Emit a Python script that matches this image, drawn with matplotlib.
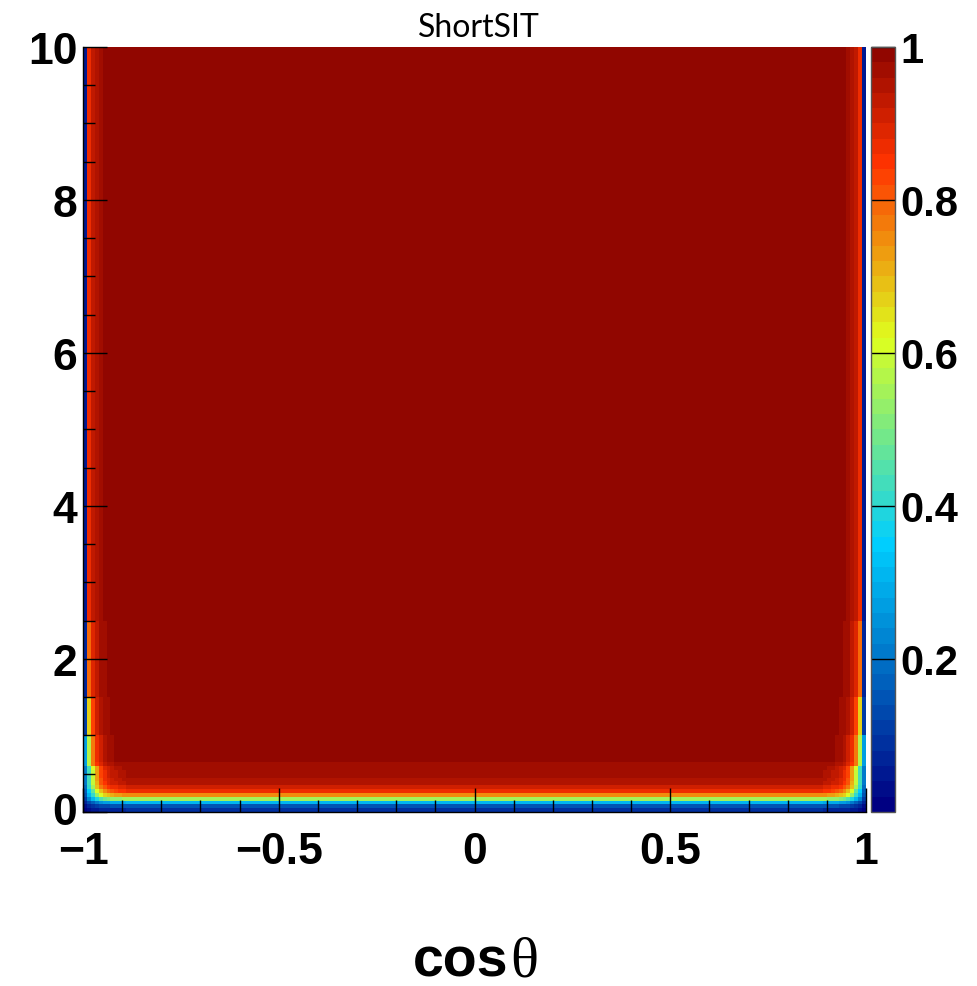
import numpy as np
import matplotlib
matplotlib.use("Agg")
import matplotlib.pyplot as plt
import matplotlib.transforms as mtransforms
from matplotlib.colors import LinearSegmentedColormap, ListedColormap

# binning of the 2D efficiency histogram
n_xbins = 200          # cos(theta) from -1 to 1
n_ybins = 200          # y from 0 to 10
x_range = (-1.0, 1.0)
y_range = (0.0, 10.0)

# efficiency vs y in the central region, first bins (0.05 wide), plateau above
eff_turnon = [0.08, 0.15, 0.30, 0.55, 0.75, 0.86, 0.90, 0.94, 0.95, 0.96,
              0.965, 0.97, 0.975]
eff_plateau = 0.99

# efficiency factor vs distance (in bins) from |cos(theta)| = 1, per y band
edge_band_lo = [0.0, 0.3, 0.6, 1.0, 1.5, 2.5]     # lower y edge of each band
edge_factor = [
    [0.20, 0.40, 0.55, 0.70, 0.80, 0.88, 0.92, 0.95, 0.97, 0.98, 0.99],
    [0.22, 0.45, 0.62, 0.76, 0.86, 0.91, 0.94, 0.96, 0.97, 0.98, 0.99],
    [0.28, 0.58, 0.78, 0.87, 0.92, 0.95, 0.97, 0.98, 0.99],
    [0.12, 0.68, 0.84, 0.91, 0.95, 0.97, 0.98],
    [0.08, 0.80, 0.90, 0.94, 0.97, 0.98],
    [0.05, 0.87, 0.93, 0.96, 0.98],
]

xticks = [-1, -0.5, 0, 0.5, 1]
xticklabels = ["\u22121", "\u22120.5", "0", "0.5", "1"]
yticks = [0, 2, 4, 6, 8, 10]
cbar_ticks = [0.2, 0.4, 0.6, 0.8, 1.0]
cbar_labels = ["0.2", "0.4", "0.6", "0.8", "1"]

# ---- fill the histogram from the tables ----
x_edges = np.linspace(x_range[0], x_range[1], n_xbins + 1)
y_edges = np.linspace(y_range[0], y_range[1], n_ybins + 1)
eff = np.zeros((n_ybins, n_xbins))
for j in range(n_ybins):
    ylo = y_edges[j]
    central = eff_turnon[j] if j < len(eff_turnon) else eff_plateau
    band = max(k for k, b in enumerate(edge_band_lo) if ylo >= b - 1e-9)
    prof = edge_factor[band]
    for i in range(n_xbins):
        d = min(i, n_xbins - 1 - i)
        f = prof[d] if d < len(prof) else 1.0
        eff[j, i] = central * f

# ROOT-like rainbow palette: 255-colour gradient, 50 contour levels
stops = [0.00, 0.34, 0.61, 0.84, 1.00]
reds = [0.00, 0.00, 0.87, 1.00, 0.51]
greens = [0.00, 0.81, 1.00, 0.20, 0.00]
blues = [0.51, 1.00, 0.12, 0.00, 0.00]
grad = LinearSegmentedColormap.from_list(
    "rootgrad", list(zip(stops, zip(reds, greens, blues))), N=255)
n_levels = 50
cmap = ListedColormap([grad(int(k * 255 / n_levels)) for k in range(n_levels)])

fig = plt.figure(figsize=(9.78, 9.87), dpi=100)
ax = fig.add_axes([0.0849, 0.1763, 0.8006, 0.7751])
mesh = ax.pcolormesh(x_edges, y_edges, eff, cmap=cmap, vmin=0, vmax=1,
                     shading="flat")
ax.set_xlim(x_range)
ax.set_ylim(y_range)

for side in ["top", "right"]:
    ax.spines[side].set_visible(False)
for side in ["left", "bottom"]:
    ax.spines[side].set_linewidth(1.0)

bold = dict(family="Liberation Sans", weight="bold")
ax.set_xticks(xticks)
ax.set_xticklabels(xticklabels, fontsize=32, **bold)
ax.set_yticks(yticks)
ax.set_yticklabels([str(v) for v in yticks], fontsize=32, **bold)
ax.set_xticks(np.arange(-1, 1.001, 0.1), minor=True)
ax.set_yticks(np.arange(0, 10.001, 0.5), minor=True)
ax.tick_params(which="major", direction="in", length=17, width=1,
               top=False, right=False)
ax.tick_params(which="minor", direction="in", length=8.5, width=1,
               top=False, right=False)
ax.tick_params(axis="x", which="major", pad=14)
ax.tick_params(axis="y", which="major", pad=4)

# nudge the "0" y label up a touch so it does not run into "-1"
zero_lab = ax.get_yticklabels()[0]
zero_lab.set_transform(zero_lab.get_transform() +
                       mtransforms.ScaledTranslation(0, 3 / 72, fig.dpi_scale_trans))

# colour bar
cax = fig.add_axes([0.8906, 0.1763, 0.0245, 0.7751])
cb = fig.colorbar(mesh, cax=cax)
cb.set_ticks(cbar_ticks)
cb.set_ticklabels(cbar_labels)
cb.outline.set_edgecolor("#555555")
cb.outline.set_linewidth(1.0)
cax.tick_params(direction="in", length=17, width=1, pad=4, labelsize=30)
for lab in cax.get_yticklabels():
    lab.set_fontfamily("Liberation Sans")
    lab.set_fontweight("bold")
cax.minorticks_off()

# title and axis label
fig.text(0.490, 0.9715, "ShortSIT", ha="center", va="center",
         fontsize=23, family="Lato")
fig.text(0.520, 0.011, "cos", ha="right", va="baseline", fontsize=40, **bold)
fig.text(0.522, 0.011, "\u03b8", ha="left", va="baseline", fontsize=42,
         family="Liberation Serif")

fig.savefig("out.png", dpi=100)
